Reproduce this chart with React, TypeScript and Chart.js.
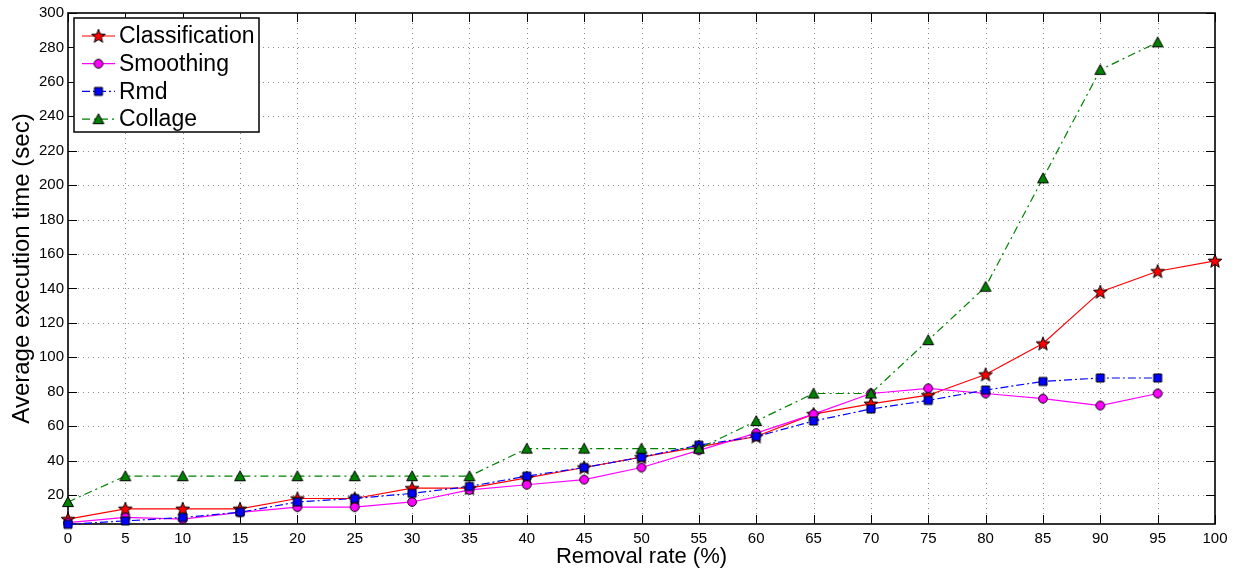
import React, { useEffect, useRef } from 'react';
import { Chart, registerables } from 'chart.js';

Chart.register(...registerables);

const xValues = [0, 5, 10, 15, 20, 25, 30, 35, 40, 45, 50, 55, 60, 65, 70, 75, 80, 85, 90, 95, 100];
const classification = [6, 12, 12, 12, 18, 18, 24, 24, 30, 36, 42, 48, 54, 67, 73, 78, 90, 108, 138, 150, 156];
const smoothing = [4, 7, 6, 10, 13, 13, 16, 23, 26, 29, 36, 46, 56, 67, 79, 82, 79, 76, 72, 79];
const rmd = [3, 5, 7, 10, 16, 18, 21, 25, 31, 36, 42, 49, 54, 63, 70, 75, 81, 86, 88, 88];
const collage = [16, 31, 31, 31, 31, 31, 31, 31, 47, 47, 47, 47, 63, 79, 79, 110, 141, 204, 267, 283];
const yTickValues = [20, 40, 60, 80, 100, 120, 140, 160, 180, 200, 220, 240, 260, 280, 300];
const seriesLabels = ['Classification', 'Smoothing', 'Rmd', 'Collage'];

const FONT = '"Liberation Sans", Arial, Helvetica, sans-serif';

function makeMarker(shape: string, fill: string): HTMLCanvasElement {
  const size = 18;
  const c = document.createElement('canvas');
  c.width = size;
  c.height = size;
  const ctx = c.getContext('2d')!;
  const cx = size / 2;
  const cy = size / 2;
  ctx.beginPath();
  if (shape === 'star') {
    for (let i = 0; i < 10; i++) {
      const r = i % 2 === 0 ? 7.2 : 3;
      const a = -Math.PI / 2 + (i * Math.PI) / 5;
      const px = cx + r * Math.cos(a);
      const py = cy + 0.5 + r * Math.sin(a);
      if (i === 0) ctx.moveTo(px, py);
      else ctx.lineTo(px, py);
    }
  } else if (shape === 'circle') {
    ctx.arc(cx, cy, 4.4, 0, Math.PI * 2);
  } else if (shape === 'square') {
    ctx.rect(cx - 4, cy - 4, 8, 8);
  } else {
    ctx.moveTo(cx, cy - 5.3);
    ctx.lineTo(cx + 5.4, cy + 4.6);
    ctx.lineTo(cx - 5.4, cy + 4.6);
  }
  ctx.closePath();
  ctx.fillStyle = fill;
  ctx.fill();
  ctx.lineWidth = 1;
  ctx.strokeStyle = '#000';
  ctx.stroke();
  return c;
}

const framePlugin = {
  id: 'matlabFrame',
  beforeDatasetsDraw(chart: any) {
    const { ctx, chartArea } = chart;
    const { left, right, top, bottom } = chartArea;
    const xs = chart.scales.x;
    const ys = chart.scales.y;
    ctx.save();
    ctx.strokeStyle = '#8a8a8a';
    ctx.lineWidth = 1;
    ctx.setLineDash([1, 4]);
    xs.ticks.forEach((t: any) => {
      const px = Math.round(xs.getPixelForValue(t.value)) + 0.5;
      if (px <= left + 2 || px >= right - 2) return;
      ctx.beginPath();
      ctx.moveTo(px, top);
      ctx.lineTo(px, bottom);
      ctx.stroke();
    });
    ys.ticks.forEach((t: any) => {
      const py = Math.round(ys.getPixelForValue(t.value)) + 0.5;
      if (py <= top + 2 || py >= bottom - 2) return;
      ctx.beginPath();
      ctx.moveTo(left, py);
      ctx.lineTo(right, py);
      ctx.stroke();
    });
    ctx.setLineDash([]);
    ctx.strokeStyle = '#000';
    ctx.lineWidth = 1;
    const tl = 9;
    xs.ticks.forEach((t: any) => {
      const px = Math.round(xs.getPixelForValue(t.value)) + 0.5;
      ctx.beginPath();
      ctx.moveTo(px, bottom);
      ctx.lineTo(px, bottom - tl);
      ctx.moveTo(px, top);
      ctx.lineTo(px, top + tl);
      ctx.stroke();
    });
    ys.ticks.forEach((t: any) => {
      const py = Math.round(ys.getPixelForValue(t.value)) + 0.5;
      ctx.beginPath();
      ctx.moveTo(left, py);
      ctx.lineTo(left + tl, py);
      ctx.moveTo(right, py);
      ctx.lineTo(right - tl, py);
      ctx.stroke();
    });
    ctx.lineWidth = 1.6;
    ctx.strokeRect(left, top, right - left, bottom - top);
    ctx.restore();
  },
};

const legendPlugin = {
  id: 'matlabLegend',
  afterDraw(chart: any) {
    const { ctx, chartArea } = chart;
    const bx = chartArea.left + 6;
    const by = chartArea.top + 5;
    const bw = 185;
    const bh = 114;
    ctx.save();
    ctx.fillStyle = '#fff';
    ctx.fillRect(bx, by, bw, bh);
    ctx.strokeStyle = '#000';
    ctx.lineWidth = 1.5;
    ctx.strokeRect(bx, by, bw, bh);
    const ordered = [...chart.data.datasets];
    ordered.forEach((ds: any, i: number) => {
      const cy = by + 18 + i * 27.7;
      ctx.strokeStyle = ds.borderColor;
      ctx.lineWidth = ds.borderWidth;
      ctx.setLineDash(ds.borderDash || []);
      ctx.beginPath();
      ctx.moveTo(bx + 8, cy);
      ctx.lineTo(bx + 41, cy);
      ctx.stroke();
      ctx.setLineDash([]);
      const img = ds.pointStyle as HTMLCanvasElement;
      ctx.drawImage(img, bx + 24.5 - img.width / 2, cy - img.height / 2);
      ctx.fillStyle = '#000';
      ctx.font = `23px ${FONT}`;
      ctx.textBaseline = 'middle';
      ctx.textAlign = 'left';
      ctx.fillText(ds.label, bx + 45, cy + 1);
    });
    ctx.restore();
  },
};

export default function App() {
  const ref = useRef<HTMLCanvasElement | null>(null);
  useEffect(() => {
    if (!ref.current) return;
    Chart.defaults.font.family = FONT;
    Chart.defaults.color = '#000';
    const toPts = (arr: number[]) => arr.map((v, i) => ({ x: xValues[i], y: v }));
    const chart = new Chart(ref.current, {
      type: 'line',
      data: {
        datasets: [
          {
            label: seriesLabels[0],
            data: toPts(classification),
            borderColor: '#ff0000',
            borderWidth: 1.2,
            pointStyle: makeMarker('star', '#ff0000'),
            pointRadius: 6,
            order: 4,
            clip: false,
          },
          {
            label: seriesLabels[1],
            data: toPts(smoothing),
            borderColor: '#ff00ff',
            borderWidth: 1.2,
            pointStyle: makeMarker('circle', '#ff00ff'),
            pointRadius: 6,
            order: 3,
            clip: false,
          },
          {
            label: seriesLabels[2],
            data: toPts(rmd),
            borderColor: '#0000ff',
            borderWidth: 1.2,
            borderDash: [8, 3, 2, 3],
            pointStyle: makeMarker('square', '#0000ff'),
            pointRadius: 6,
            order: 2,
            clip: false,
          },
          {
            label: seriesLabels[3],
            data: toPts(collage),
            borderColor: '#008000',
            borderWidth: 1.2,
            borderDash: [8, 4, 2, 4],
            pointStyle: makeMarker('triangle', '#008000'),
            pointRadius: 6,
            order: 1,
            clip: false,
          },
        ] as any,
      },
      options: {
        animation: false,
        responsive: false,
        layout: { padding: { left: 0, right: 21, top: 10, bottom: 0 } },
        plugins: { legend: { display: false }, tooltip: { enabled: false } },
        elements: { line: { tension: 0 } },
        scales: {
          x: {
            type: 'linear',
            min: 0,
            max: 100,
            grid: { display: false, drawTicks: false },
            border: { display: false },
            ticks: {
              stepSize: 5,
              autoSkip: false,
              maxRotation: 0,
              padding: 6,
              font: { size: 15, family: FONT },
              color: '#000',
            },
            title: {
              display: true,
              text: 'Removal rate (%)',
              font: { size: 22, family: FONT },
              color: '#000',
              padding: { top: 0, bottom: 1 },
            },
            afterFit: (s: any) => {
              s.height = 47;
            },
          },
          y: {
            type: 'linear',
            min: 3.2,
            max: 300,
            grid: { display: false, drawTicks: false },
            border: { display: false },
            afterBuildTicks: (s: any) => {
              s.ticks = yTickValues.map((v) => ({ value: v }));
            },
            ticks: {
              autoSkip: false,
              padding: 4,
              font: { size: 15, family: FONT },
              color: '#000',
            },
            title: {
              display: true,
              text: 'Average execution time (sec)',
              font: { size: 24, family: FONT },
              color: '#000',
              padding: { top: 8, bottom: 0 },
            },
            afterFit: (s: any) => {
              s.width = 68;
            },
          },
        },
      } as any,
      plugins: [framePlugin, legendPlugin],
    });
    return () => chart.destroy();
  }, []);
  return (
    <div style={{ position: 'absolute', left: 0, top: 0, width: 1236, height: 571, background: '#fff' }}>
      <canvas ref={ref} width={1236} height={571} style={{ width: 1236, height: 571, display: 'block' }} />
    </div>
  );
}
